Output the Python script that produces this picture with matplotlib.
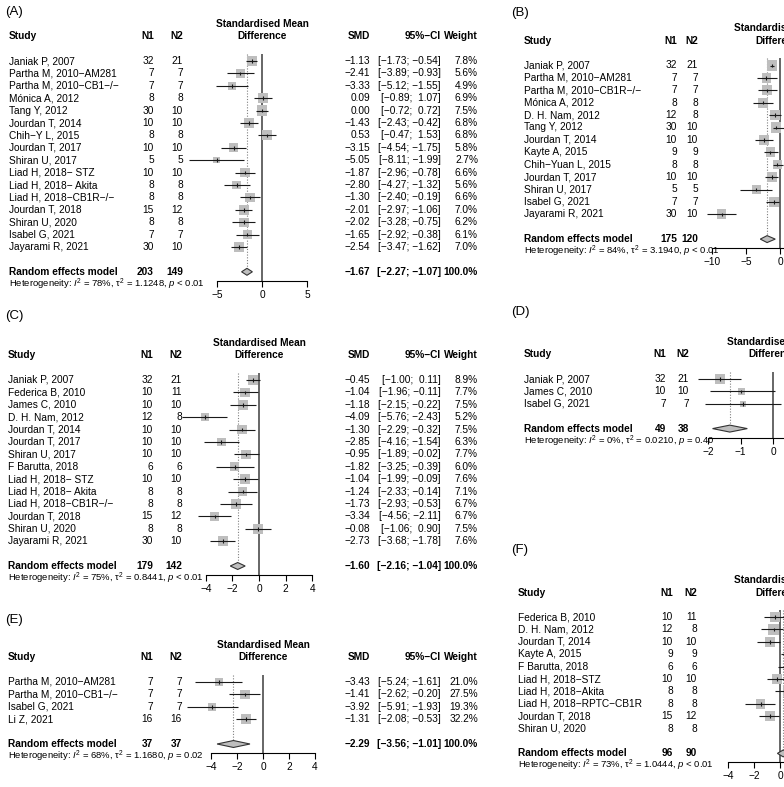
import matplotlib
matplotlib.use("Agg")
import matplotlib.pyplot as plt
from matplotlib.patches import Polygon
import numpy as np

plt.rcParams["font.family"] = ["Liberation Sans", "DejaVu Sans"]
plt.rcParams["mathtext.fontset"] = "custom"
plt.rcParams["mathtext.rm"] = "Liberation Sans"
plt.rcParams["mathtext.it"] = "Liberation Sans:italic"
plt.rcParams["mathtext.bf"] = "Liberation Sans:bold"

M = "\u2212"

# ---------------- data ----------------
# (A)
studies_a = ["Janiak P, 2007", f"Partha M, 2010{M}AM281", f"Partha M, 2010{M}CB1{M}/{M}",
             "Mónica A, 2012", "Tang Y, 2012", "Jourdan T, 2014", f"Chih{M}Y L, 2015",
             "Jourdan T, 2017", "Shiran U, 2017", f"Liad H, 2018{M} STZ", f"Liad H, 2018{M} Akita",
             f"Liad H, 2018{M}CB1R{M}/{M}", "Jourdan T, 2018", "Shiran U, 2020", "Isabel G, 2021",
             "Jayarami R, 2021"]
n1_a = [32, 7, 7, 8, 30, 10, 8, 10, 5, 10, 8, 8, 15, 8, 7, 30]
n2_a = [21, 7, 7, 8, 10, 10, 8, 10, 5, 10, 8, 8, 12, 8, 7, 10]
smd_a = [-1.13, -2.41, -3.33, 0.09, 0.00, -1.43, 0.53, -3.15, -5.05, -1.87, -2.80, -1.30, -2.01, -2.02, -1.65, -2.54]
lo_a = [-1.73, -3.89, -5.12, -0.89, -0.72, -2.43, -0.47, -4.54, -8.11, -2.96, -4.27, -2.40, -2.97, -3.28, -2.92, -3.47]
hi_a = [-0.54, -0.93, -1.55, 1.07, 0.72, -0.42, 1.53, -1.75, -1.99, -0.78, -1.32, -0.19, -1.06, -0.75, -0.38, -1.62]
w_a = [7.8, 5.6, 4.9, 6.9, 7.5, 6.8, 6.8, 5.8, 2.7, 6.6, 5.6, 6.6, 7.0, 6.2, 6.1, 7.0]
pooled_a = (-1.67, -2.27, -1.07)
het_a = ("78%", "1.1248", "< 0.01")

# (B)
studies_b = ["Janiak P, 2007", f"Partha M, 2010{M}AM281", f"Partha M, 2010{M}CB1R{M}/{M}",
             "Mónica A, 2012", "D. H. Nam, 2012", "Tang Y, 2012", "Jourdan T, 2014", "Kayte A, 2015",
             f"Chih{M}Yuan L, 2015", "Jourdan T, 2017", "Shiran U, 2017", "Isabel G, 2021",
             "Jayarami R, 2021"]
n1_b = [32, 7, 7, 8, 12, 30, 10, 9, 8, 10, 5, 7, 30]
n2_b = [21, 7, 7, 8, 8, 10, 10, 9, 8, 10, 5, 7, 10]
smd_b = [-1.2, -2.0, -1.9, -2.5, -0.7, -0.6, -2.35, -1.4, -0.4, -1.2, -3.5, -0.9, -8.6]
lo_b = [-1.5, -3.4, -3.2, -4.0, -1.6, -1.0, -3.7, -2.35, -1.1, -2.2, -5.9, -2.0, -10.7]
hi_b = [-0.9, -0.4, -0.4, -1.1, 0.1, 0.9, -1.1, -0.25, 0.4, -0.25, -1.2, -0.1, -6.5]
w_b = [9.0, 7.6, 7.7, 7.6, 8.0, 8.3, 7.8, 8.0, 6.6, 7.9, 6.5, 7.8, 8.0]
pooled_b = (-1.9, -2.9, -0.7)
het_b = ("84%", "3.1940", "< 0.01")

# (C)
studies_c = ["Janiak P, 2007", "Federica B, 2010", "James C, 2010", "D. H. Nam, 2012", "Jourdan T, 2014",
             "Jourdan T, 2017", "Shiran U, 2017", "F Barutta, 2018", f"Liad H, 2018{M} STZ",
             f"Liad H, 2018{M} Akita", f"Liad H, 2018{M}CB1R{M}/{M}", "Jourdan T, 2018", "Shiran U, 2020",
             "Jayarami R, 2021"]
n1_c = [32, 10, 10, 12, 10, 10, 10, 6, 10, 8, 8, 15, 8, 30]
n2_c = [21, 11, 10, 8, 10, 10, 10, 6, 10, 8, 8, 12, 8, 10]
smd_c = [-0.45, -1.04, -1.18, -4.09, -1.30, -2.85, -0.95, -1.82, -1.04, -1.24, -1.73, -3.34, -0.08, -2.73]
lo_c = [-1.00, -1.96, -2.15, -5.76, -2.29, -4.16, -1.89, -3.25, -1.99, -2.33, -2.93, -4.56, -1.06, -3.68]
hi_c = [0.11, -0.11, -0.22, -2.43, -0.32, -1.54, -0.02, -0.39, -0.09, -0.14, -0.53, -2.11, 0.90, -1.78]
w_c = [8.9, 7.7, 7.5, 5.2, 7.5, 6.3, 7.7, 6.0, 7.6, 7.1, 6.7, 6.7, 7.5, 7.6]
pooled_c = (-1.60, -2.16, -1.04)
het_c = ("75%", "0.8441", "< 0.01")

# (D)
studies_d = ["Janiak P, 2007", "James C, 2010", "Isabel G, 2021"]
n1_d = [32, 10, 7]
n2_d = [21, 10, 7]
smd_d = [-1.63, -0.97, -0.92]
lo_d = [-2.30, -1.94, -2.10]
hi_d = [-0.97, 0.05, 0.25]
w_d = [53.5, 26.9, 19.6]
pooled_d = (-1.33, -1.86, -0.79)
het_d = ("0%", "0.0210", "= 0.40")

# (E)
studies_e = [f"Partha M, 2010{M}AM281", f"Partha M, 2010{M}CB1{M}/{M}", "Isabel G, 2021", "Li Z, 2021"]
n1_e = [7, 7, 7, 16]
n2_e = [7, 7, 7, 16]
smd_e = [-3.43, -1.41, -3.92, -1.31]
lo_e = [-5.24, -2.62, -5.91, -2.08]
hi_e = [-1.61, -0.20, -1.93, -0.53]
w_e = [21.0, 27.5, 19.3, 32.2]
pooled_e = (-2.29, -3.56, -1.01)
het_e = ("68%", "1.1680", "= 0.02")

# (F)
studies_f = ["Federica B, 2010", "D. H. Nam, 2012", "Jourdan T, 2014", "Kayte A, 2015", "F Barutta, 2018",
             f"Liad H, 2018{M}STZ", f"Liad H, 2018{M}Akita", f"Liad H, 2018{M}RPTC{M}CB1R",
             "Jourdan T, 2018", "Shiran U, 2020"]
n1_f = [10, 12, 10, 9, 6, 10, 8, 8, 15, 8]
n2_f = [11, 8, 10, 9, 6, 10, 8, 8, 12, 8]
smd_f = [-0.38, -0.5, -0.77, 1.0, 1.2, -0.25, 0.6, -1.5, -0.77, 1.5]
lo_f = [-1.2, -1.5, -1.8, 0.1, -0.15, -1.0, -0.4, -2.7, -1.6, 0.5]
hi_f = [0.4, 0.25, 0.0, 1.9, 2.5, 0.5, 1.6, -0.4, -0.05, 2.5]
w_f = [10.5, 10.3, 10.2, 9.5, 8.5, 10.4, 9.8, 9.6, 10.7, 10.5]
pooled_f = (0.25, -0.2, 0.7)
het_f = ("73%", "1.0444", "< 0.01")

# ---------------- layout ----------------
W, H = 784, 787
FS = 7.3
FS_HET = 6.8
ROW = 12.4
GREY = "#BEBEBE"

fig = plt.figure(figsize=(W / 100, H / 100), dpi=100)
bg = fig.add_axes([0, 0, 1, 1])
bg.set_xlim(0, W)
bg.set_ylim(H, 0)
bg.axis("off")


def num(v):
    s = f"{abs(v):.2f}"
    return (M + s) if v < 0 else s


def ci_txt(lo, hi):
    a = (M + f"{abs(lo):.2f}") if lo < 0 else " " + f"{lo:.2f}"
    b = (M + f"{abs(hi):.2f}") if hi < 0 else " " + f"{hi:.2f}"
    return f"[{a}; {b}]"


def forest(tag, lay, labels, n1, n2, smd, lo, hi, w, pooled, het, right_cols=True):
    n = len(labels)
    y0 = lay["y0"]
    rows = np.arange(n)
    yh = lay["yh"]
    y_rand = y0 + (n + 1) * ROW
    y_het = y_rand + ROW

    bg.text(lay["tag"][0], lay["tag"][1], tag, fontsize=9.5, ha="left", va="center")

    # header
    bg.text(lay["xs"], yh, "Study", fontsize=FS, weight="bold", ha="left", va="center")
    bg.text(lay["xn1"], yh, "N1", fontsize=FS, weight="bold", ha="right", va="center")
    bg.text(lay["xn2"], yh, "N2", fontsize=FS, weight="bold", ha="right", va="center")
    bg.text(lay["cx"], yh - ROW, "Standardised Mean", fontsize=FS, weight="bold", ha="center", va="center")
    bg.text(lay["cx"], yh, "Difference", fontsize=FS, weight="bold", ha="center", va="center")
    if right_cols:
        bg.text(370, yh, "SMD", fontsize=FS, weight="bold", ha="right", va="center")
        bg.text(441, yh, "95%" + M + "CI", fontsize=FS, weight="bold", ha="right", va="center")
        bg.text(478, yh, "Weight", fontsize=FS, weight="bold", ha="right", va="center")

    for i in range(n):
        y = y0 + i * ROW
        bg.text(lay["xs"], y, labels[i], fontsize=FS, ha="left", va="center")
        bg.text(lay["xn1"], y, str(n1[i]), fontsize=FS, ha="right", va="center")
        bg.text(lay["xn2"], y, str(n2[i]), fontsize=FS, ha="right", va="center")
        if right_cols:
            bg.text(370, y, num(smd[i]), fontsize=FS, ha="right", va="center")
            bg.text(441, y, ci_txt(lo[i], hi[i]), fontsize=FS, ha="right", va="center")
            bg.text(478, y, f"{w[i]:.1f}%", fontsize=FS, ha="right", va="center")

    bg.text(lay["xs"], y_rand, "Random effects model", fontsize=FS, weight="bold", ha="left", va="center")
    bg.text(lay["xn1"], y_rand, str(sum(n1)), fontsize=FS, weight="bold", ha="right", va="center")
    bg.text(lay["xn2"], y_rand, str(sum(n2)), fontsize=FS, weight="bold", ha="right", va="center")
    if right_cols:
        bg.text(370, y_rand, num(pooled[0]), fontsize=FS, weight="bold", ha="right", va="center")
        bg.text(441, y_rand, ci_txt(pooled[1], pooled[2]), fontsize=FS, weight="bold", ha="right", va="center")
        bg.text(478, y_rand, "100.0%", fontsize=FS, weight="bold", ha="right", va="center")
    bg.text(lay["xs"], y_het,
            r"Heterogeneity: $\mathit{I}^{2}$ = " + het[0] + r", $\mathrm{\tau}^{2}$ = " + het[1]
            + r", $\mathit{p}$ " + het[2],
            fontsize=FS_HET, ha="left", va="center")

    # plot column
    lim, sc, cx = lay["lim"], lay["scale"], lay["cx"]
    y_axis = y_rand + 9
    y_top = y0 - 0.6 * ROW
    left = cx - lim * sc
    ax = fig.add_axes([left / W, 1 - y_axis / H, 2 * lim * sc / W, (y_axis - y_top) / H])
    ax.set_xlim(-lim, lim)
    ax.set_ylim((y_axis - y0) / ROW, (y_top - y0) / ROW)
    ax.patch.set_alpha(0)
    for s in ["top", "left", "right"]:
        ax.spines[s].set_visible(False)
    ticks = lay["ticks"]
    ax.spines["bottom"].set_bounds(ticks[0], ticks[-1])
    ax.spines["bottom"].set_linewidth(0.8)
    ax.set_xticks(ticks)
    ax.set_yticks([])
    ax.tick_params(axis="x", direction="out", length=4, width=0.8, pad=2.5, labelsize=FS)

    ax.axvline(0, color="#4d4d4d", lw=1.2, zorder=1)
    ax.vlines(pooled[0], (y_top - y0) / ROW, n + 1 - 0.3, colors="#808080", linestyles=(0, (1, 1.5)),
              lw=0.8, zorder=1)
    wmax = max(w)
    sizes = [(10.5 * np.sqrt(wi / wmax) * 0.72) ** 2 for wi in w]
    ax.scatter(smd, rows, marker="s", s=sizes, color=GREY, edgecolors="none", zorder=2)
    ax.hlines(rows, lo, hi, colors="#1a1a1a", lw=0.8, zorder=3, clip_on=False)
    ax.vlines(smd, rows - 0.14, rows + 0.14, colors="#1a1a1a", lw=0.8, zorder=3)
    pe, pl, ph = pooled
    dia = Polygon([(pl, n + 1), (pe, n + 1 - 0.28), (ph, n + 1), (pe, n + 1 + 0.28)],
                  closed=True, facecolor=GREY, edgecolor="#333333", lw=0.8, zorder=3)
    ax.add_patch(dia)


lay_a = dict(tag=(5, 12), xs=9, xn1=154, xn2=183, cx=262, scale=9.0, lim=8.11,
             ticks=[-5, 0, 5], yh=36, y0=61)
lay_c = dict(tag=(5, 316), xs=8, xn1=153, xn2=182, cx=259, scale=13.3, lim=5.76,
             ticks=[-4, -2, 0, 2, 4], yh=355, y0=380)
lay_e = dict(tag=(5, 620), xs=8, xn1=153, xn2=182, cx=263, scale=12.9, lim=5.91,
             ticks=[-4, -2, 0, 2, 4], yh=657.5, y0=682)
lay_b = dict(tag=(511, 13), xs=524, xn1=677, xn2=698, cx=780, scale=6.8, lim=10.7,
             ticks=[-10, -5, 0, 5, 10], yh=40.5, y0=65.5)
lay_d = dict(tag=(511, 312), xs=524, xn1=666, xn2=689, cx=773, scale=32.5, lim=2.3,
             ticks=[-2, -1, 0, 1, 2], yh=354, y0=379)
lay_f = dict(tag=(511, 550), xs=518, xn1=673, xn2=697, cx=780, scale=13.0, lim=5.7,
             ticks=[-4, -2, 0, 2, 4], yh=592.5, y0=617)

forest("(A)", lay_a, studies_a, n1_a, n2_a, smd_a, lo_a, hi_a, w_a, pooled_a, het_a)
forest("(B)", lay_b, studies_b, n1_b, n2_b, smd_b, lo_b, hi_b, w_b, pooled_b, het_b, right_cols=False)
forest("(C)", lay_c, studies_c, n1_c, n2_c, smd_c, lo_c, hi_c, w_c, pooled_c, het_c)
forest("(D)", lay_d, studies_d, n1_d, n2_d, smd_d, lo_d, hi_d, w_d, pooled_d, het_d, right_cols=False)
forest("(E)", lay_e, studies_e, n1_e, n2_e, smd_e, lo_e, hi_e, w_e, pooled_e, het_e)
forest("(F)", lay_f, studies_f, n1_f, n2_f, smd_f, lo_f, hi_f, w_f, pooled_f, het_f, right_cols=False)

fig.savefig("out.png", dpi=100)
